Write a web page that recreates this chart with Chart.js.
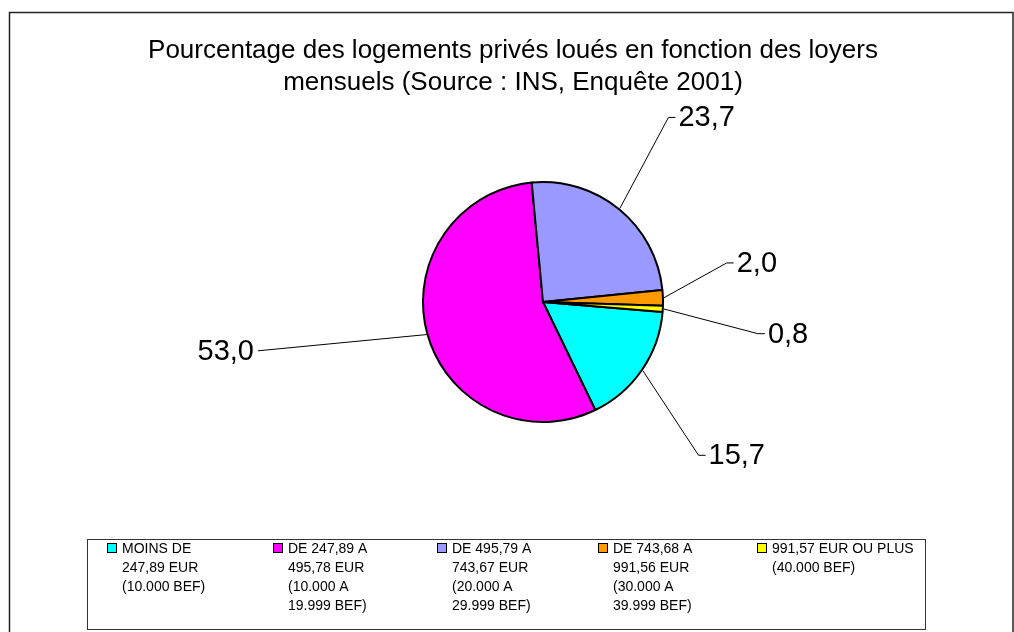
<!DOCTYPE html>
<html>
<head>
<meta charset="utf-8">
<script src="https://cdn.jsdelivr.net/npm/chart.js@4.4.1/dist/chart.umd.min.js"></script>
<style>
  html, body { margin: 0; padding: 0; background: #ffffff; }
  #wrap { position: relative; width: 1014px; height: 632px; }
</style>
</head>
<body>
<div id="wrap"><canvas id="c" width="1014" height="632"></canvas></div>
<script>
// ---- data ----
const titleLines = [
  'Pourcentage des logements privés loués en fonction des loyers',
  'mensuels (Source : INS, Enquête 2001)'
];
const categories = [
  ['MOINS DE', '247,89 EUR', '(10.000 BEF)'],
  ['DE 247,89 A', '495,78 EUR', '(10.000 A', '19.999 BEF)'],
  ['DE 495,79 A', '743,67 EUR', '(20.000 A', '29.999 BEF)'],
  ['DE 743,68 A', '991,56 EUR', '(30.000 A', '39.999 BEF)'],
  ['991,57 EUR OU PLUS', '(40.000 BEF)']
];
const shares = [15.7, 53.0, 23.7, 2.0, 0.8];

// ---- styling ----
const sliceColors = ['#00FFFF', '#FF00FF', '#9999FF', '#FF9900', '#FFFF00'];
const FONT = '"Liberation Sans", Arial, Helvetica, sans-serif';

// callout placement: angular shift from the slice middle (deg), elbow distance (in radii), tick length
const calloutLayout = [
  { shift: 10.1,  dist: 1.82,  tick: 7 },
  { shift: 5.9,   dist: 2.41,  tick: 0 },
  { shift: -5.2,  dist: 1.86,  tick: 7 },
  { shift: -10.0, dist: 1.565, tick: 7 },
  { shift: 5.1,   dist: 1.81,  tick: 7 }
];
const legendColumnsX = [122, 288, 452, 613, 772];

function fmt(v) { return v.toFixed(1).replace('.', ','); }

const decor = {
  id: 'decor',
  beforeDraw(chart) {
    const ctx = chart.ctx;
    ctx.save();
    ctx.fillStyle = '#ffffff';
    ctx.fillRect(0, 0, chart.width, chart.height);
    // outer chart frame
    ctx.strokeStyle = '#222222';
    ctx.lineWidth = 1.5;
    ctx.strokeRect(9.5, 12.5, 1003.5, 640);
    ctx.restore();
  },
  afterDatasetsDraw(chart) {
    const ctx = chart.ctx;
    const meta = chart.getDatasetMeta(0);
    const values = chart.data.datasets[0].data;
    ctx.save();
    ctx.font = '29px ' + FONT;
    ctx.fillStyle = '#000000';
    ctx.strokeStyle = '#000000';
    ctx.lineWidth = 1;
    ctx.textBaseline = 'middle';
    meta.data.forEach((arc, i) => {
      const p = arc.getProps(['x', 'y', 'startAngle', 'endAngle', 'outerRadius'], true);
      const mid = (p.startAngle + p.endAngle) / 2;
      const lay = calloutLayout[i];
      const a = mid + lay.shift * Math.PI / 180;
      const sx = p.x + Math.cos(mid) * (p.outerRadius + 1);
      const sy = p.y + Math.sin(mid) * (p.outerRadius + 1);
      const ex = p.x + Math.cos(a) * p.outerRadius * lay.dist;
      const ey = p.y + Math.sin(a) * p.outerRadius * lay.dist;
      const right = Math.cos(a) >= 0;
      const tx = right ? ex + lay.tick : ex - lay.tick;
      ctx.beginPath();
      ctx.moveTo(sx, sy);
      ctx.lineTo(ex, ey);
      ctx.lineTo(tx, ey);
      ctx.stroke();
      ctx.textAlign = right ? 'left' : 'right';
      ctx.fillText(fmt(values[i]), right ? tx + 3 : tx - 4, ey + 1);
    });
    ctx.restore();
  },
  afterDraw(chart) {
    const ctx = chart.ctx;
    ctx.save();
    // title
    ctx.fillStyle = '#000000';
    ctx.font = '26px ' + FONT;
    ctx.textAlign = 'center';
    ctx.textBaseline = 'middle';
    titleLines.forEach((t, i) => ctx.fillText(t, 513, 51 + i * 32));

    // legend
    ctx.strokeStyle = '#333333';
    ctx.lineWidth = 1;
    ctx.strokeRect(87.5, 539.5, 838, 90);
    ctx.font = '14px ' + FONT;
    ctx.textAlign = 'left';
    const bg = chart.data.datasets[0].backgroundColor;
    chart.data.labels.forEach((lines, i) => {
      const x = legendColumnsX[i];
      ctx.fillStyle = bg[i];
      ctx.fillRect(x - 15, 543, 10, 10);
      ctx.strokeStyle = '#000000';
      ctx.strokeRect(x - 14.5, 543.5, 9, 9);
      ctx.fillStyle = '#000000';
      lines.forEach((ln, j) => ctx.fillText(ln, x, 549 + j * 19));
    });
    ctx.restore();
  }
};

new Chart(document.getElementById('c'), {
  type: 'pie',
  data: {
    labels: categories,
    datasets: [{
      data: shares,
      backgroundColor: sliceColors,
      borderColor: '#000000',
      borderWidth: 2,
      radius: 120
    }]
  },
  options: {
    responsive: false,
    animation: false,
    events: [],
    rotation: 94.8,
    layout: { padding: { left: 300, right: 228, top: 100, bottom: 128 } },
    plugins: {
      legend: { display: false },
      title: { display: false },
      tooltip: { enabled: false }
    }
  },
  plugins: [decor]
});
</script>
</body>
</html>
